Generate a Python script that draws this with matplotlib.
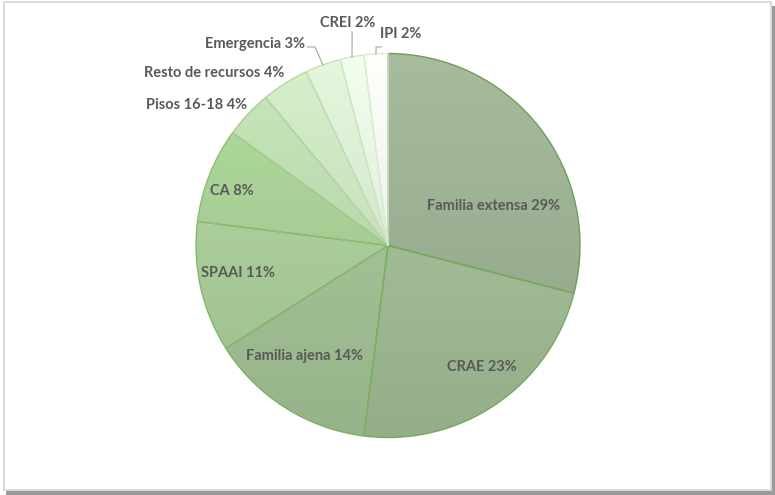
import numpy as np
import matplotlib
matplotlib.use("Agg")
import matplotlib.pyplot as plt
from matplotlib.colors import to_rgb
from matplotlib.patches import Rectangle
from matplotlib.lines import Line2D

# data
labels = ["Familia extensa", "CRAE", "Familia ajena", "SPAAI", "CA",
          "Pisos 16-18", "Resto de recursos", "Emergencia", "CREI", "IPI"]
values = [29, 23, 14, 11, 8, 4, 4, 3, 2, 2]

# styling
base_colors = ["#9aae91", "#a0bb94", "#a2c094", "#a8cb98", "#a5cd93",
               "#bad8ad", "#c8e0bd", "#d5e7cd", "#e1eedc", "#edf5ea"]
edge_colors = ["#6e9e55", "#78a85e", "#7dae62", "#86b66c", "#8cbd72",
               "#a6cd94", "#b4d6a5", "#c3dfb7", "#d0e6c7", "#dcedd5"]
# label centres in axes data units (pie radius = 1)
label_pos = [(0.552, 0.208), (0.49, -0.635), (-0.4375, -0.573), (-0.781, -0.141),
             (-0.8125, 0.286), (-0.995, 0.734), (-0.906, 0.901), (-0.693, 1.047),
             (-0.208, 1.161), (0.068, 1.104)]
# leader lines: elbow points for the small outside labels
leaders = {7: [(-0.38, 1.034), (-0.42, 1.034)],
           8: [(-0.187, 1.112)],
           9: [(-0.062, 1.034), (-0.035, 1.034)]}

W, H = 775, 495
fig = plt.figure(figsize=(W / 100, H / 100), dpi=100)
fig.patch.set_facecolor("white")

# frame with a drop shadow
fig.add_artist(Rectangle((772 / W, 0.5 / H), 3 / W, 489 / H, transform=fig.transFigure,
                         facecolor="#9a9a9a", edgecolor="none", zorder=-3))
fig.add_artist(Rectangle((6 / W, 0.5 / H), 769 / W, 4 / H, transform=fig.transFigure,
                         facecolor="#9a9a9a", edgecolor="none", zorder=-3))
fig.add_artist(Rectangle((4 / W, 5 / H), 767 / W, 488 / H, transform=fig.transFigure,
                         facecolor="white", edgecolor="#d4d4d4", linewidth=1.2, zorder=-2))

cx, cy, r = 388, 245.5, 192
ax = fig.add_axes([(cx - r) / W, (H - cy - r) / H, 2 * r / W, 2 * r / H])
ax.set_xlim(-1, 1)
ax.set_ylim(-1, 1)
ax.set_aspect("equal")
ax.axis("off")

wedges, _ = ax.pie(values, startangle=90, counterclock=False, radius=1,
                   wedgeprops=dict(facecolor="none", linewidth=1.0))

for i, w in enumerate(wedges):
    w.set_edgecolor(edge_colors[i])
    w.set_zorder(3)
    c = np.array(to_rgb(base_colors[i]))
    top = np.clip(c * 1.05 + 0.02, 0, 1)
    bot = np.clip(c * 0.93, 0, 1)
    t = np.linspace(0, 1, 64)[:, None]
    grad = top[None, :] * (1 - t) + bot[None, :] * t
    img = np.repeat(grad[:, None, :], 2, axis=1)
    im = ax.imshow(img, extent=[-1, 1, -1, 1], origin="upper", zorder=2,
                   interpolation="bilinear", aspect="auto")
    im.set_clip_path(w)

ax.set_xlim(-1, 1)
ax.set_ylim(-1, 1)

for i, (lab, v) in enumerate(zip(labels, values)):
    x, y = label_pos[i]
    ax.text(x, y, f"{lab} {v}%", ha="center", va="center", fontsize=10.5,
            fontweight="bold", family=["Lato", "DejaVu Sans"], color="#595959",
            zorder=5, clip_on=False)

for i, pts in leaders.items():
    w = wedges[i]
    mid = np.deg2rad((w.theta1 + w.theta2) / 2)
    xs = [np.cos(mid)] + [p[0] for p in pts]
    ys = [np.sin(mid)] + [p[1] for p in pts]
    ax.add_line(Line2D(xs, ys, color="#a6a6a6", linewidth=0.8, zorder=4, clip_on=False))

fig.savefig("out.png", dpi=100)
